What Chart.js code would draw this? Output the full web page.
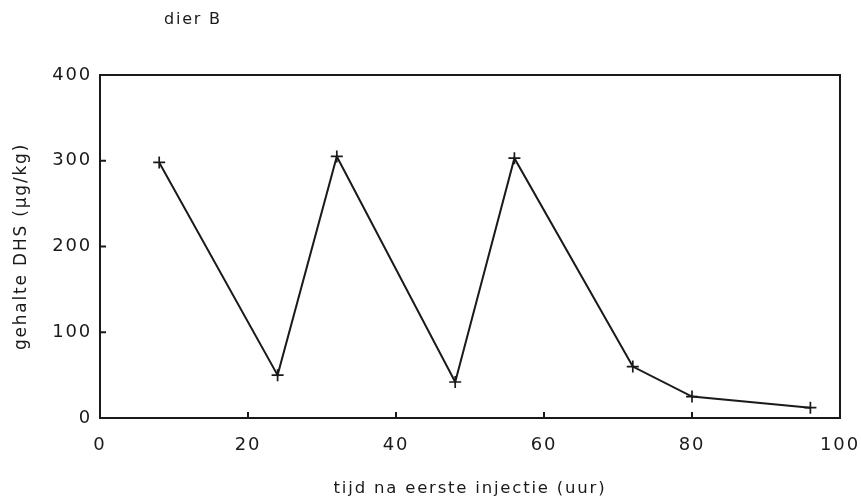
<!DOCTYPE html>
<html>
<head>
<meta charset="utf-8">
<script src="https://cdn.jsdelivr.net/npm/chart.js@4.4.0/dist/chart.umd.min.js"></script>
<style>
  html, body { margin: 0; padding: 0; background: #fff; }
</style>
</head>
<body>
<canvas id="dier-b" width="861" height="502"></canvas>
<script>
// gehalte DHS per tijdstip, dier B
const hours = [8, 24, 32, 48, 56, 72, 80, 96];
const dhsLevels = [298, 50, 305, 42, 303, 60, 25, 12];
const xTicks = [0, 20, 40, 60, 80, 100];
const yTicks = [0, 100, 200, 300, 400];

const ink = '#1a1a1a';
const fontName = '"DejaVu Sans", sans-serif';

// the original lettering is wide, so spread the glyphs a bit
const wideText = {
  id: 'wideText',
  beforeDraw(chart) {
    chart.ctx.letterSpacing = '1.8px';
  }
};

// frame + inward tick marks + the "dier B" heading
const frameAndTicks = {
  id: 'frameAndTicks',
  afterDraw(chart) {
    const { ctx, chartArea: a, scales } = chart;
    ctx.save();
    ctx.strokeStyle = ink;
    ctx.lineWidth = 2;
    ctx.strokeRect(a.left, a.top, a.right - a.left, a.bottom - a.top);
    ctx.beginPath();
    xTicks.slice(1, -1).forEach(v => {
      const px = scales.x.getPixelForValue(v);
      ctx.moveTo(px, a.bottom);
      ctx.lineTo(px, a.bottom - 6);
    });
    yTicks.slice(1, -1).forEach(v => {
      const py = scales.y.getPixelForValue(v);
      ctx.moveTo(a.left, py);
      ctx.lineTo(a.left + 6, py);
    });
    ctx.stroke();
    ctx.fillStyle = ink;
    ctx.font = '16px ' + fontName;
    ctx.textAlign = 'left';
    ctx.textBaseline = 'middle';
    ctx.fillText('dier B', 164, 20);
    ctx.restore();
  }
};

const ctx = document.getElementById('dier-b').getContext('2d');
const chart = new Chart(ctx, {
  type: 'line',
  data: {
    datasets: [{
      data: hours.map((h, i) => ({ x: h, y: dhsLevels[i] })),
      borderColor: ink,
      borderWidth: 2,
      tension: 0,
      pointStyle: 'cross',
      pointRadius: 6,
      pointBorderWidth: 1.7,
      pointBorderColor: ink,
      fill: false
    }]
  },
  options: {
    responsive: false,
    animation: false,
    layout: { padding: { top: 75, right: 21, bottom: 0, left: 0 } },
    plugins: {
      legend: { display: false },
      tooltip: { enabled: false }
    },
    scales: {
      x: {
        type: 'linear',
        min: 0,
        max: 100,
        afterBuildTicks: s => { s.ticks = xTicks.map(v => ({ value: v })); },
        afterFit: s => { s.height = 84; s.paddingLeft = 0; s.paddingRight = 0; },
        grid: { display: false, drawTicks: false },
        border: { display: false },
        ticks: { color: ink, padding: 17, font: { family: fontName, size: 18 } },
        title: {
          display: true,
          text: 'tijd na eerste injectie (uur)',
          color: ink,
          font: { family: fontName, size: 16.5 },
          padding: { top: 0, bottom: 3 }
        }
      },
      y: {
        type: 'linear',
        min: 0,
        max: 400,
        afterBuildTicks: s => { s.ticks = yTicks.map(v => ({ value: v })); },
        afterFit: s => { s.width = 100; s.paddingTop = 0; s.paddingBottom = 0; },
        grid: { display: false, drawTicks: false },
        border: { display: false },
        ticks: { color: ink, padding: 8, font: { family: fontName, size: 18 } },
        title: {
          display: true,
          text: 'gehalte DHS (µg/kg)',
          color: ink,
          font: { family: fontName, size: 17 },
          padding: { top: 11, bottom: 0 }
        }
      }
    }
  },
  plugins: [wideText, frameAndTicks]
});
</script>
</body>
</html>
